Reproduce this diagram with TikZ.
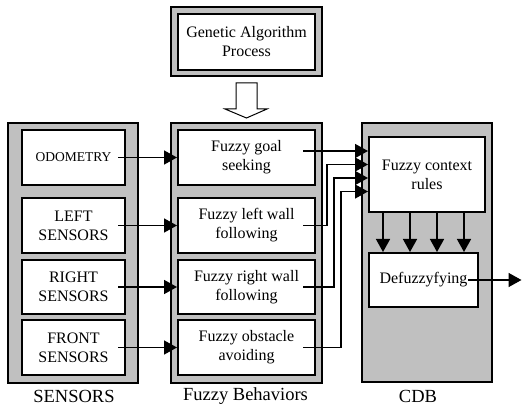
\documentclass[tikz,border=0pt]{standalone}
\usepackage{fontspec}
\setmainfont{LiberationSerif-Regular.ttf}
\usetikzlibrary{arrows.meta}
\definecolor{panelgray}{HTML}{C0C0C0}
\begin{document}
\begin{tikzpicture}[x=1pt,y=-1pt,
  panel/.style={draw=black,line width=2pt,fill=panelgray,inner sep=0pt},
  box/.style={draw=black,line width=2pt,fill=white,align=center,inner sep=0pt,
    font=\fontsize{16}{19}\selectfont},
  conn/.style={line width=1.5pt,-{Triangle[length=13pt,width=14pt]}},
  hollow/.style={draw=black,line width=1pt,fill=white,line join=miter},
  caption/.style={font=\fontsize{18.5}{22}\selectfont,inner sep=0pt}]
\useasboundingbox (0,0) rectangle (522,406);

% genetic algorithm block (double frame)
\node[panel,minimum width=151pt,minimum height=69pt] (gaframe) at (246.5,41.5) {};
\node[box,minimum width=137pt,minimum height=56pt] (ga) at (246.5,42) {Genetic Algorithm\\Process};

% three column panels
\node[panel,minimum width=130pt,minimum height=260pt] (sens) at (73,253) {};
\node[panel,minimum width=151pt,minimum height=260pt] (beh) at (246.5,253) {};
\node[panel,minimum width=130pt,minimum height=259pt] (cdb) at (427,252.5) {};

\node[caption] at (74,396) {SENSORS};
\node[caption] at (245.5,396) {Fuzzy Behaviors};
\node[caption] at (418,396) {CDB};

% hollow arrow from the GA block into the behaviours
\draw[hollow] ([xshift=-10.5pt,yshift=-6pt]gaframe.south) -- ++(21,0) -- ++(0,26)
  -- ++(10,0) -- ++(-20.5,9) -- ++(-21.5,-9) -- ++(11,0) -- cycle;

% sensor boxes
\node[box,minimum width=103pt,minimum height=55pt,font=\fontsize{13.5}{16}\selectfont] (odo) at (73.5,157.5) {ODOMETRY};
\node[box,minimum width=103pt,minimum height=55pt] (lsen) at (73.5,225.5) {LEFT\\SENSORS};
\node[box,minimum width=103pt,minimum height=54pt] (rsen) at (73.5,287) {RIGHT\\SENSORS};
\node[box,minimum width=103pt,minimum height=55pt] (fsen) at (73.5,347.5) {FRONT\\SENSORS};

% behaviour boxes
\node[box,minimum width=137pt,minimum height=55pt] (goal) at (246.5,157.5) {Fuzzy goal\\seeking};
\node[box,minimum width=137pt,minimum height=55pt] (lwall) at (246.5,225.5) {Fuzzy left wall\\following};
\node[box,minimum width=137pt,minimum height=54pt] (rwall) at (246.5,287) {Fuzzy right wall\\following};
\node[box,minimum width=137pt,minimum height=55pt] (obst) at (246.5,347.5) {Fuzzy obstacle\\avoiding};

% CDB boxes
\node[box,minimum width=116pt,minimum height=75pt] (rules) at (427,174.5) {Fuzzy context\\rules};
\node[box,minimum width=109pt,minimum height=54pt] (defz) at (423.5,280) {Defuzzyfying};

% input points on the context rules
\coordinate (in1) at ([yshift=23.5pt]rules.west);
\coordinate (in2) at ([yshift=10pt]rules.west);
\coordinate (in3) at ([yshift=-3.5pt]rules.west);
\coordinate (in4) at ([yshift=-17pt]rules.west);
\coordinate (out) at (521.5,280);

% sensors to behaviours
\draw[conn] ([xshift=-8pt]odo.east) -- (goal.west);
\draw[conn] ([xshift=-8pt]lsen.east) -- (lwall.west);
\draw[conn] ([xshift=-8pt]rsen.east) -- (rwall.west);
\draw[conn] ([xshift=-8pt]fsen.east) -- (obst.west);

% behaviours to context rules
\draw[conn] ([xshift=-13pt]goal.east |- in1) -- (in1);
\draw[conn] ([xshift=-13pt]lwall.east) -| ([xshift=-41pt]in2) -- (in2);
\draw[conn] ([xshift=-13pt]rwall.east) -| ([xshift=-34pt]in3) -- (in3);
\draw[conn] ([xshift=-13pt]obst.east) -| ([xshift=-27pt]in4) -- (in4);

% context rules to defuzzification
\foreach \dx in {-40.5,-13.5,13.5,40.5}
  \draw[conn] ([xshift=\dx pt]defz.north |- rules.south) -- ([xshift=\dx pt]defz.north);

% output
\draw[conn] ([xshift=-11pt]defz.east) -- (out);
\end{tikzpicture}
\end{document}
